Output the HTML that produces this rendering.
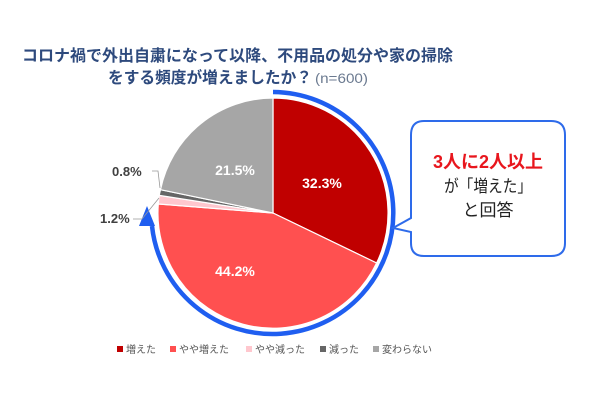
<!DOCTYPE html>
<html><head><meta charset="utf-8"><style>
body{margin:0;background:#fff;}
svg text{font-family:"Liberation Sans","Noto Sans CJK JP",sans-serif;}
</style></head><body>
<svg width="600" height="400" viewBox="0 0 600 400" xmlns="http://www.w3.org/2000/svg">
<rect width="600" height="400" fill="#fff"/>
<text x="22" y="61" font-size="16" font-weight="bold" fill="#2E4A7D" textLength="431" lengthAdjust="spacingAndGlyphs">コロナ禍で外出自粛になって以降、不用品の処分や家の掃除</text>
<text x="108" y="83" font-size="16" font-weight="bold" fill="#2E4A7D" textLength="204" lengthAdjust="spacingAndGlyphs">をする頻度が増えましたか？</text>
<text x="315" y="83" font-size="14" fill="#6b7a90" textLength="53" lengthAdjust="spacingAndGlyphs">(n=600)</text>
<g stroke="#fff" stroke-width="1.2">
<path d="M273,213 L273,98 A115,115 0 0 1 376.6,263.0 Z" fill="#C00000"/>
<path d="M273,213 L376.6,263.0 A115,115 0 0 1 158.3,204.0 Z" fill="#FF5050"/>
<path d="M273,213 L158.3,204.0 A115,115 0 0 1 159.2,195.4 Z" fill="#FFC7CE"/>
<path d="M273,213 L159.2,195.4 A115,115 0 0 1 160.5,189.7 Z" fill="#666"/>
<path d="M273,213 L160.5,189.7 A115,115 0 0 1 273,98 Z" fill="#A6A6A6"/>
</g>
<path d="M273,92 A121,121 0 1 1 152,226" fill="none" stroke="#1F5EF0" stroke-width="4.5"/>
<polygon points="147,206 139,226 155,226" fill="#1F5EF0"/>
<text x="322" y="188" text-anchor="middle" font-size="14" font-weight="bold" fill="#fff">32.3%</text>
<text x="235" y="276" text-anchor="middle" font-size="14" font-weight="bold" fill="#fff">44.2%</text>
<text x="235" y="175" text-anchor="middle" font-size="14" font-weight="bold" fill="#fff">21.5%</text>
<text x="112" y="176" font-size="13" font-weight="bold" fill="#404040">0.8%</text>
<polyline points="152,171 158,171 160,188" fill="none" stroke="#999" stroke-width="0.8"/>
<text x="100" y="223" font-size="13" font-weight="bold" fill="#404040">1.2%</text>
<polyline points="133,219 142,219 159,198" fill="none" stroke="#999" stroke-width="0.8"/>
<path d="M424,121 H551 Q565,121 565,135 V243 Q565,256 551,256 H424 Q411,256 411,243 V232 L393,228 L411,218 V135 Q411,121 424,121 Z" fill="#fff" stroke="#2E6BEA" stroke-width="2"/>
<text x="488" y="168" text-anchor="middle" font-size="18" font-weight="bold" fill="#E8161D">3人に2人以上</text>
<text x="488" y="192" text-anchor="middle" font-size="17" fill="#222" textLength="88" lengthAdjust="spacingAndGlyphs">が「増えた」</text>
<text x="488" y="216" text-anchor="middle" font-size="17" fill="#222">と回答</text>
<g font-size="10" fill="#555">
<rect x="117" y="346" width="6" height="6" fill="#C00000"/><text x="126" y="353">増えた</text>
<rect x="170" y="346" width="6" height="6" fill="#FF5050"/><text x="179" y="353">やや増えた</text>
<rect x="246" y="346" width="6" height="6" fill="#FFC7CE"/><text x="255" y="353">やや減った</text>
<rect x="320" y="346" width="6" height="6" fill="#666"/><text x="329" y="353">減った</text>
<rect x="373" y="346" width="6" height="6" fill="#A6A6A6"/><text x="382" y="353">変わらない</text>
</g>
</svg>
</body></html>
